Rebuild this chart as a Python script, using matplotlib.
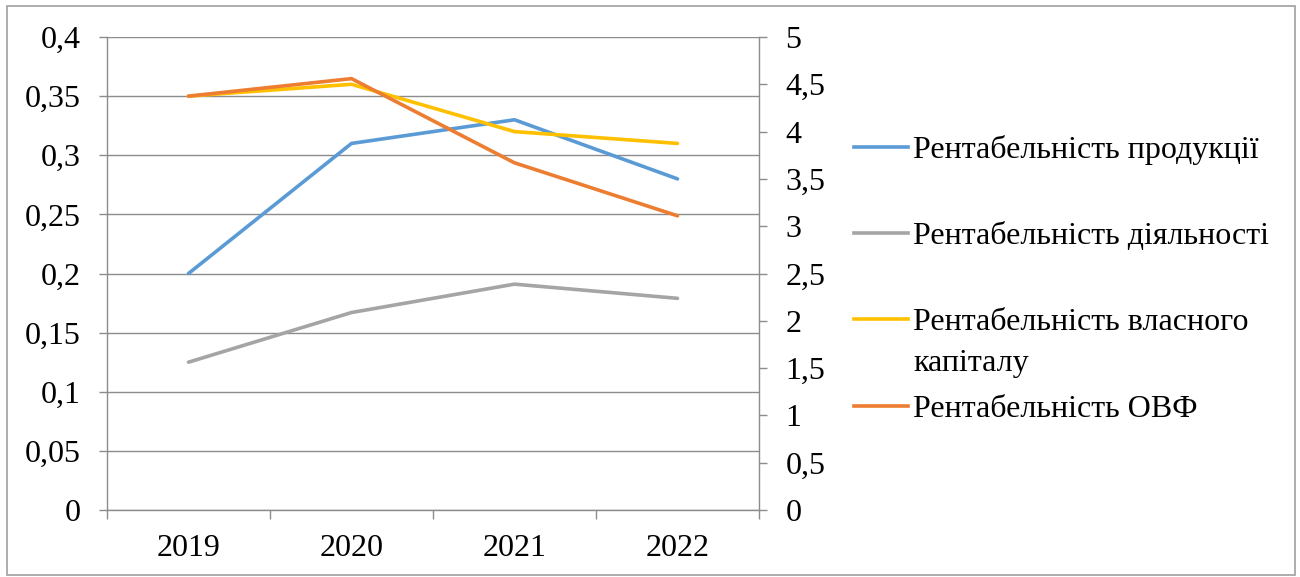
import matplotlib.pyplot as plt
from matplotlib.lines import Line2D
from matplotlib.patches import Rectangle

plt.rcParams['font.family'] = ['Liberation Serif', 'DejaVu Serif']

years = ['2019', '2020', '2021', '2022']
prod = [0.20, 0.31, 0.33, 0.28]      # рентабельність продукції (ліва вісь)
diyal = [0.125, 0.167, 0.191, 0.179]  # рентабельність діяльності (ліва вісь)
vlasn = [0.35, 0.36, 0.32, 0.31]      # рентабельність власного капіталу (ліва вісь)
ovf = [4.375, 4.56, 3.67, 3.11]       # рентабельність ОВФ (права вісь)

labels = ['Рентабельність продукції', 'Рентабельність діяльності',
          'Рентабельність власного\nкапіталу', 'Рентабельність ОВФ']
colors = ['#5B9BD5', '#A5A5A5', '#FFC000', '#ED7D31']

W, H = 1300, 577
fig = plt.figure(figsize=(13, 5.77), dpi=100)
ax = fig.add_axes([107 / W, (H - 510) / H, (759 - 107) / W, (510 - 37) / H])
ax2 = ax.twinx()

x = range(len(years))
lw = 2.6
ax.plot(x, prod, color=colors[0], lw=lw, solid_capstyle='round')
ax.plot(x, diyal, color=colors[1], lw=lw, solid_capstyle='round')
ax.plot(x, vlasn, color=colors[2], lw=lw, solid_capstyle='round')
ax2.plot(x, ovf, color=colors[3], lw=lw, solid_capstyle='round')

grid_c = '#8C8C8C'
ax.set_xlim(-0.5, 3.5)
ax.set_ylim(0, 0.4)
ax2.set_ylim(0, 5)
ax.set_yticks([i * 0.05 for i in range(9)])
ax.set_yticklabels(['0', '0,05', '0,1', '0,15', '0,2', '0,25', '0,3', '0,35', '0,4'])
ax2.set_yticks([i * 0.5 for i in range(11)])
ax2.set_yticklabels(['0', '0,5', '1', '1,5', '2', '2,5', '3', '3,5', '4', '4,5', '5'])
ax.set_xticks(list(x))
ax.set_xticklabels(years)
ax.set_xticks([-0.5, 0.5, 1.5, 2.5, 3.5], minor=True)
ax.yaxis.grid(True, color=grid_c, lw=1)
ax.set_axisbelow(True)

for a in (ax, ax2):
    for s in a.spines.values():
        s.set_visible(False)
ax.spines['left'].set_visible(True)
ax.spines['bottom'].set_visible(True)
ax2.spines['right'].set_visible(True)
for s in (ax.spines['left'], ax.spines['bottom'], ax2.spines['right']):
    s.set_color(grid_c)
    s.set_linewidth(1)

ax.tick_params(axis='y', which='major', length=6, width=1, color=grid_c,
               labelsize=23, pad=13)
ax2.tick_params(axis='y', which='major', length=6, width=1, color=grid_c,
                labelsize=23, pad=13)
ax.tick_params(axis='x', which='major', length=0, labelsize=23, pad=17)
ax.tick_params(axis='x', which='minor', length=6.5, width=1, color=grid_c)

# легенда справа, як в Excel
ys = [147, 233, 319, 406]
for lab, c, yy in zip(labels, colors, ys):
    fig.add_artist(Line2D([854 / W, 908 / W], [1 - yy / H, 1 - yy / H],
                          color=c, lw=lw, transform=fig.transFigure))
    for k, part in enumerate(lab.split('\n')):
        fig.text(913 / W, 1 - (yy + 11 + 41 * k) / H, part, fontsize=23,
                 va='baseline', ha='left')

fig.add_artist(Rectangle((7 / W, 1 - 575 / H), (1295 - 7) / W, (575 - 6) / H,
                         fill=False, edgecolor='#A0A0A0', lw=1.2,
                         transform=fig.transFigure))

fig.savefig('out.png', dpi=100)
